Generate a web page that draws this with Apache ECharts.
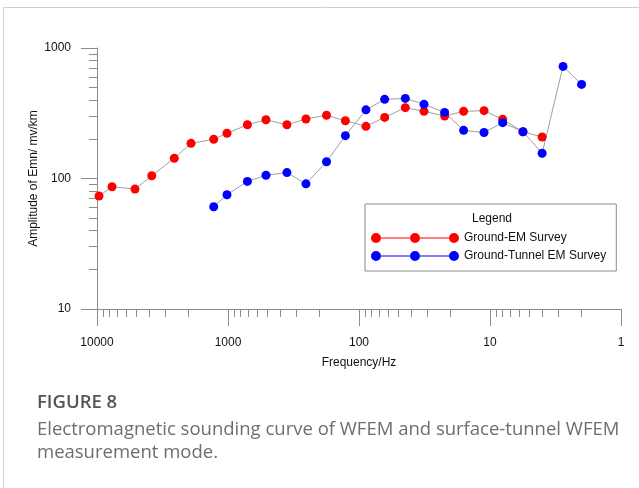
<!DOCTYPE html>
<html>
<head>
<meta charset="utf-8">
<script src="https://cdn.jsdelivr.net/npm/echarts@6/dist/echarts.min.js"></script>
<style>
  html, body { margin: 0; padding: 0; background: #fff; }
  #chart { width: 639px; height: 488px; }
</style>
</head>
<body>
<div id="chart"></div>
<script>
// frequencies (Hz) and amplitudes
const freqGround = [9650, 7680, 5130, 3820, 2570, 1916, 1285, 1018, 711, 513, 355, 254, 177, 127, 88.5, 63.7, 44.3, 31.9, 22.2, 15.9, 11.1, 8.0, 5.6, 4.0]
const ampGround = [73.5, 86.5, 83, 105, 143, 186, 200, 222, 258, 282, 258, 286, 305, 277, 251, 294, 349, 327, 301, 327, 331, 284, 228, 208]
const freqTunnel = [1285, 1018, 711, 513, 355, 254, 177, 127, 88.5, 63.7, 44.3, 31.9, 22.2, 15.9, 11.1, 8.0, 5.6, 4.0, 2.77, 2.0]
const ampTunnel = [60.8, 75.1, 95, 106, 111, 91, 134.5, 213, 336, 404, 411, 370, 321, 234, 225, 268, 228, 156, 723, 526]

const xMajor = [1, 10, 100, 1000, 10000]
const yMajor = [10, 100, 1000]
const seriesNames = ['Ground-EM Survey', 'Ground-Tunnel EM Survey']

function minorTicks(majors) {
  const out = []
  for (let i = 0; i < majors.length - 1; i++) {
    for (let k = 2; k <= 9; k++) out.push(majors[i] * k)
  }
  return out
}

const axisColor = '#8c8c8c'
const sans = 'Liberation Sans'
const labelFont = { fontFamily: sans, fontSize: 12, color: '#111' }

// three dots joined by a thin bar
const legendIcon = 'path://M0,5a5,5 0 1,0 10,0a5,5 0 1,0 -10,0Z' +
  'M39,5a5,5 0 1,0 10,0a5,5 0 1,0 -10,0Z' +
  'M78,5a5,5 0 1,0 10,0a5,5 0 1,0 -10,0Z' +
  'M10,4.5L39,4.5L39,5.5L10,5.5Z' +
  'M49,4.5L78,4.5L78,5.5L49,5.5Z'

const chart = echarts.init(document.getElementById('chart'))
chart.setOption({
  backgroundColor: '#fff',
  animation: false,
  grid: { left: 97, right: 18, top: 48, bottom: 179 },
  legend: {
    orient: 'vertical',
    left: 365,
    top: 204,
    data: seriesNames,
    icon: legendIcon,
    itemWidth: 88,
    itemHeight: 10,
    itemGap: 6,
    padding: [28, 10, 9, 6],
    borderColor: '#8a8a8a',
    borderWidth: 1,
    selectedMode: false,
    textStyle: { fontFamily: sans, fontSize: 12, color: '#111' }
  },
  xAxis: [
    {
      type: 'log',
      min: 1,
      max: 10000,
      inverse: true,
      name: 'Frequency/Hz',
      nameLocation: 'middle',
      nameGap: 48,
      nameMoveOverlap: false,
      nameTextStyle: { fontFamily: sans, fontSize: 12, color: '#111' },
      axisLine: { lineStyle: { color: axisColor } },
      axisTick: { customValues: xMajor, length: 17, lineStyle: { color: axisColor } },
      axisLabel: Object.assign({ customValues: xMajor, margin: 28, formatter: v => String(v) }, labelFont),
      splitLine: { show: false }
    },
    {
      type: 'log',
      min: 1,
      max: 10000,
      inverse: true,
      position: 'bottom',
      axisLine: { show: false },
      axisTick: { customValues: minorTicks(xMajor), length: 8, lineStyle: { color: axisColor } },
      axisLabel: { show: false },
      splitLine: { show: false }
    }
  ],
  yAxis: [
    {
      type: 'log',
      min: 10,
      max: 1000,
      name: 'Amplitude of Emn/ mv/km',
      nameLocation: 'middle',
      nameGap: 57,
      nameMoveOverlap: false,
      nameTextStyle: { fontFamily: sans, fontSize: 12, color: '#111' },
      axisLine: { show: true, lineStyle: { color: axisColor } },
      axisTick: { show: true, customValues: yMajor, length: 16, lineStyle: { color: axisColor } },
      axisLabel: Object.assign({ customValues: yMajor, margin: 26, formatter: v => String(v) }, labelFont),
      splitLine: { show: false }
    },
    {
      type: 'log',
      min: 10,
      max: 1000,
      position: 'left',
      axisLine: { show: false },
      axisTick: { show: true, customValues: minorTicks(yMajor), length: 8, lineStyle: { color: axisColor } },
      axisLabel: { show: false },
      splitLine: { show: false }
    }
  ],
  graphic: [
    {
      type: 'rect',
      silent: true,
      shape: { x: 3.5, y: 7.5, width: 700, height: 600 },
      style: { fill: 'none', stroke: '#cfcfcf', lineWidth: 1 }
    },
    {
      type: 'text',
      left: 472,
      top: 213,
      style: { text: 'Legend', font: '12px "Liberation Sans"', fill: '#111' }
    },
    {
      type: 'text',
      left: 37,
      top: 393,
      style: { text: 'FIGURE 8', font: '600 18.5px "Open Sans"', fill: '#555' }
    },
    {
      type: 'text',
      left: 37,
      top: 418,
      style: {
        text: 'Electromagnetic sounding curve of WFEM and surface-tunnel WFEM\nmeasurement mode.',
        font: '18.5px "Open Sans"',
        lineHeight: 23,
        fill: '#6e6e6e'
      }
    }
  ],
  series: [
    {
      name: seriesNames[0],
      type: 'line',
      data: freqGround.map((f, i) => [f, ampGround[i]]),
      symbol: 'circle',
      symbolSize: 9,
      itemStyle: { color: '#ff0000' },
      lineStyle: { color: '#a0a0a0', width: 1 }
    },
    {
      name: seriesNames[1],
      type: 'line',
      data: freqTunnel.map((f, i) => [f, ampTunnel[i]]),
      symbol: 'circle',
      symbolSize: 9,
      itemStyle: { color: '#0000ff' },
      lineStyle: { color: '#a0a0a0', width: 1 }
    }
  ]
})
</script>
</body>
</html>
